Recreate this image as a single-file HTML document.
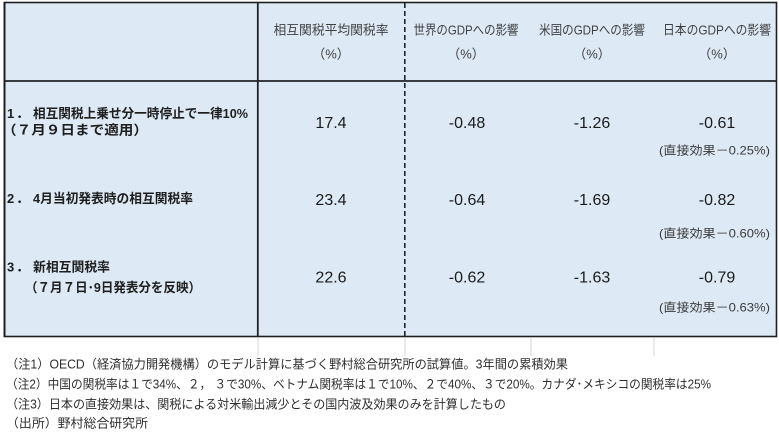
<!DOCTYPE html>
<html>
<head>
<meta charset="utf-8">
<style>
  html, body { margin:0; padding:0; background:#ffffff; }
  body { width:779px; height:433px; overflow:hidden; }
  svg { display:block; }
  .jp { font-family: "Liberation Sans", "Noto Sans CJK JP", sans-serif; }
  .hdr { font-size:13px; fill:#404040; }
  .lbl { font-size:13px; fill:#1e1e1e; font-weight:bold; }
  .val { font-size:16px; fill:#1a1a1a; }
  .sub { font-size:12px; fill:#3a3a3a; }
  .note { font-size:12.5px; fill:#2e2e2e; }
</style>
</head>
<body>
<svg width="779" height="433" viewBox="0 0 779 433" xmlns="http://www.w3.org/2000/svg">
  <!-- table background -->
  <rect x="4.5" y="2.5" width="772" height="334" fill="#ddeaf6"/>

  <!-- faint grid lines below table -->
  <g stroke="#d6d6d6" stroke-width="1">
    <line x1="258" y1="338" x2="258" y2="356"/>
    <line x1="405" y1="338" x2="405" y2="356"/>
    <line x1="531" y1="338" x2="531" y2="356"/>
    <line x1="654" y1="338" x2="654" y2="356"/>
  </g>

  <!-- borders -->
  <rect x="4.5" y="2.5" width="772" height="334" fill="none" stroke="#1f1f1f" stroke-width="1.6"/>
  <line x1="4.5" y1="2" x2="4.5" y2="337" stroke="#1f1f1f" stroke-width="2"/>
  <line x1="4" y1="81" x2="777" y2="81" stroke="#1f2328" stroke-width="1.8"/>
  <line x1="257.8" y1="2" x2="257.8" y2="337" stroke="#1f2328" stroke-width="1.8"/>
  <line x1="404.8" y1="3" x2="404.8" y2="336" stroke="#1f2328" stroke-width="1.6" stroke-dasharray="5 3"/>

  <!-- header -->
  <g class="jp hdr" text-anchor="middle">
    <text x="331" y="34.7" textLength="115" lengthAdjust="spacingAndGlyphs">相互関税平均関税率</text>
    <text x="331" y="58.7">（%）</text>
    <text x="466" y="34.7" textLength="105" lengthAdjust="spacingAndGlyphs">世界のGDPへの影響</text>
    <text x="466" y="58.7">（%）</text>
    <text x="592" y="34.7" textLength="106" lengthAdjust="spacingAndGlyphs">米国のGDPへの影響</text>
    <text x="592" y="58.7">（%）</text>
    <text x="717" y="34.7" textLength="108" lengthAdjust="spacingAndGlyphs">日本のGDPへの影響</text>
    <text x="717" y="58.7">（%）</text>
  </g>

  <!-- row labels -->
  <g class="jp lbl">
    <text x="7" y="118">1</text>
    <text x="16" y="118">．</text>
    <text x="33" y="118" textLength="215" lengthAdjust="spacingAndGlyphs">相互関税上乗せ分一時停止で一律10%</text>
    <text x="2" y="134.7" textLength="146" lengthAdjust="spacingAndGlyphs">（７月９日まで適用）</text>

    <text x="7" y="203">2</text>
    <text x="16" y="203">．</text>
    <text x="33" y="203" textLength="160" lengthAdjust="spacingAndGlyphs">4月当初発表時の相互関税率</text>

    <text x="7" y="271.4">3</text>
    <text x="16" y="271.4">．</text>
    <text x="33" y="271.4" textLength="77" lengthAdjust="spacingAndGlyphs">新相互関税率</text>
    <text x="25" y="292" textLength="176" lengthAdjust="spacingAndGlyphs">（７月７日･9日発表分を反映）</text>
  </g>

  <!-- values -->
  <g class="jp val" text-anchor="middle">
    <text x="331" y="127.8">17.4</text>
    <text x="467" y="127.8">-0.48</text>
    <text x="592" y="127.8">-1.26</text>
    <text x="717" y="127.8">-0.61</text>

    <text x="331" y="204.8">23.4</text>
    <text x="467" y="204.8">-0.64</text>
    <text x="592" y="204.8">-1.69</text>
    <text x="717" y="204.8">-0.82</text>

    <text x="331" y="282.3">22.6</text>
    <text x="467" y="282.3">-0.62</text>
    <text x="592" y="282.3">-1.63</text>
    <text x="717" y="282.3">-0.79</text>
  </g>

  <!-- sub notes -->
  <g class="jp sub" text-anchor="middle">
    <text x="714.5" y="154.5" textLength="111" lengthAdjust="spacingAndGlyphs">(直接効果－0.25%)</text>
    <text x="714.5" y="237.6" textLength="111" lengthAdjust="spacingAndGlyphs">(直接効果－0.60%)</text>
    <text x="714.5" y="311.4" textLength="111" lengthAdjust="spacingAndGlyphs">(直接効果－0.63%)</text>
  </g>

  <!-- footnotes -->
  <g class="jp note">
    <text x="6" y="368.5" textLength="562" lengthAdjust="spacingAndGlyphs">（注1）OECD（経済協力開発機構）のモデル計算に基づく野村総合研究所の試算値。3年間の累積効果</text>
    <text x="6" y="388.5" textLength="705" lengthAdjust="spacingAndGlyphs">（注2）中国の関税率は１で34%、２， ３で30%、ベトナム関税率は１で10%、２で40%、３で20%。カナダ･メキシコの関税率は25%</text>
    <text x="6" y="408.3" textLength="500" lengthAdjust="spacingAndGlyphs">（注3）日本の直接効果は、関税による対米輸出減少とその国内波及効果のみを計算したもの</text>
    <text x="6" y="427.5" textLength="142" lengthAdjust="spacingAndGlyphs">（出所）野村総合研究所</text>
  </g>
</svg>
</body>
</html>
